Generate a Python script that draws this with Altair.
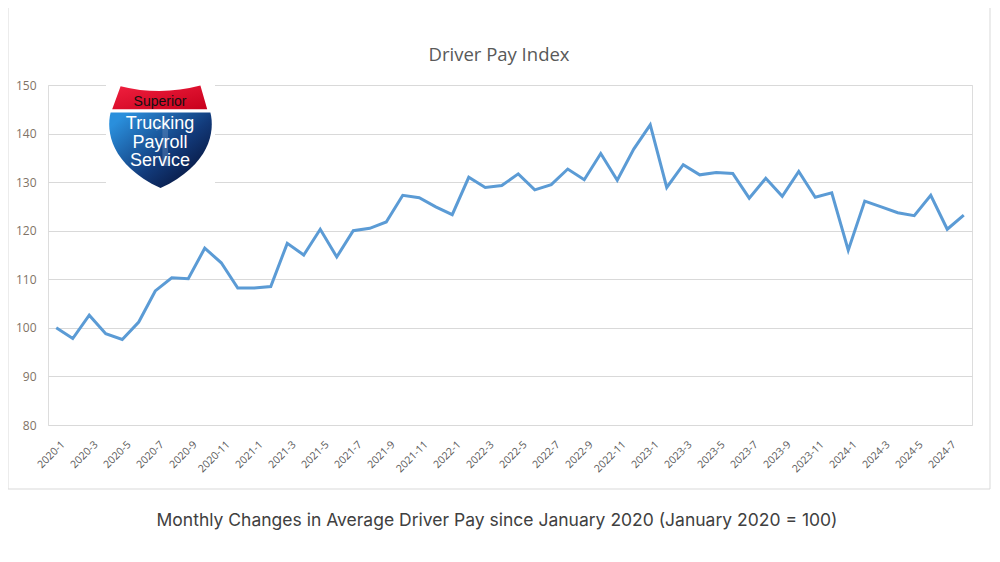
import altair as alt
import pandas as pd

months = [f"{y}-{m}" for y in range(2020, 2025) for m in range(1, 13)][:56]

pay_index = [
    100.0, 97.8, 102.6, 98.8, 97.6, 101.2, 107.6, 110.3, 110.1, 116.4,
    113.4, 108.2, 108.2, 108.5, 117.4, 115.0, 120.3, 114.6, 120.0, 120.5,
    121.8, 127.3, 126.8, 124.9, 123.3, 131.0, 128.9, 129.3, 131.7, 128.4,
    129.5, 132.7, 130.5, 135.9, 130.4, 136.8, 141.8, 128.9, 133.6, 131.5,
    132.0, 131.8, 126.7, 130.8, 127.1, 132.2, 126.9, 127.8, 116.0, 126.1,
    124.9, 123.7, 123.1, 127.3, 120.3, 123.2,
]

tick_labels = months[::2]
y_ticks = [80, 90, 100, 110, 120, 130, 140, 150]

title_text = "Driver Pay Index"
subtitle_text = "Monthly Changes in Average Driver Pay since January 2020 (January 2020 = 100)"
logo_lines = ["Trucking", "Payroll", "Service"]

df = pd.DataFrame({"month": months, "value": pay_index})
one = alt.Data(values=[{"k": 0}])

FONT = "Open Sans"

border = alt.Chart(one).mark_rect(
    filled=False, stroke="#d9d9d9", strokeWidth=1
).encode(x=alt.value(-40), x2=alt.value(942), y=alt.value(-78), y2=alt.value(404))

line = alt.Chart(df).mark_line(color="#5b9bd5", strokeWidth=3).encode(
    x=alt.X(
        "month:N",
        sort=months,
        scale=alt.Scale(type="point", padding=0.5),
        axis=alt.Axis(
            title=None, values=tick_labels, labelAngle=-45, ticks=False, domain=False,
            labelFont=FONT, labelFontSize=10.5, labelColor="#595959",
            labelPadding=14, labelOffset=3,
        ),
    ),
    y=alt.Y(
        "value:Q",
        scale=alt.Scale(domain=[80, 150]),
        axis=alt.Axis(
            title=None, values=y_ticks, ticks=False, domain=False,
            labelFont=FONT, labelFontSize=12, labelColor="#7f7366",
            labelPadding=12, gridColor="#d9d9d9", gridWidth=1,
        ),
    ),
)

logo_back = alt.Chart(one).mark_rect(fill="white").encode(
    x=alt.value(58), x2=alt.value(167), y=alt.value(-5), y2=alt.value(105)
)

red_shape = "M -0.76 -0.95 Q 0 -0.76 0.76 -0.96 L 0.89 -0.51 L -0.92 -0.51 Z"
blue_shape = "M -0.95 -0.45 L 0.95 -0.45 C 1.04 -0.1 0.95 0.55 0 0.99 C -0.95 0.55 -1.04 -0.1 -0.95 -0.45 Z"
one_shape = "M -0.1 -0.6 L 0.12 -0.72 L 0.2 -0.72 L 0.2 0.6 L 0.04 0.6 L 0.04 -0.48 L -0.14 -0.4 Z"

red = alt.Chart(one).mark_point(
    shape=red_shape, filled=True, opacity=1, strokeWidth=0,
    fill=alt.Gradient(gradient="linear", stops=[
        alt.GradientStop(color="#f0203f", offset=0), alt.GradientStop(color="#c8001c", offset=1)],
        x1=0, y1=0, x2=1, y2=1),
    size=11025,
).encode(x=alt.value(112.5), y=alt.value(51))

blue = alt.Chart(one).mark_point(
    shape=blue_shape, filled=True, opacity=1, strokeWidth=0,
    fill=alt.Gradient(gradient="linear", stops=[
        alt.GradientStop(color="#2a8fdc", offset=0),
        alt.GradientStop(color="#123a7a", offset=0.55),
        alt.GradientStop(color="#050c2e", offset=1)],
        x1=0, y1=0.2, x2=0.9, y2=1),
    size=11025,
).encode(x=alt.value(112.5), y=alt.value(51))

one_mark = alt.Chart(one).mark_point(
    shape=one_shape, filled=True, fill="#7a9cc8", opacity=0.35, strokeWidth=0, size=4900,
).encode(x=alt.value(113), y=alt.value(60))

superior = alt.Chart(one).mark_text(
    text="Superior", font="Liberation Sans", fontSize=14, color="#111111", baseline="middle"
).encode(x=alt.value(112), y=alt.value(17))

logo_txt = [
    alt.Chart(one).mark_text(
        text=t, font="Liberation Sans", fontSize=18, color="white", baseline="middle"
    ).encode(x=alt.value(112), y=alt.value(yy))
    for t, yy in zip(logo_lines, [39, 58, 76])
]

title = alt.Chart(one).mark_text(
    text=title_text, font=FONT, fontSize=18.5, color="#595959", baseline="middle"
).encode(x=alt.value(451), y=alt.value(-30))

subtitle = alt.Chart(one).mark_text(
    text=subtitle_text, font="Inter", fontSize=17.5, color="#404040", baseline="middle"
).encode(x=alt.value(449), y=alt.value(436))

chart = alt.layer(
    border, line, logo_back, red, blue, one_mark, superior, *logo_txt, title, subtitle
).properties(
    width=924, height=340,
    padding={"left": 40, "top": 77, "right": 20, "bottom": 128},
    autosize=alt.AutoSizeParams(type="none"),
).configure_view(stroke=None).configure(background="white")

chart.save("out.html", embed_options={"renderer": "svg", "actions": False})
